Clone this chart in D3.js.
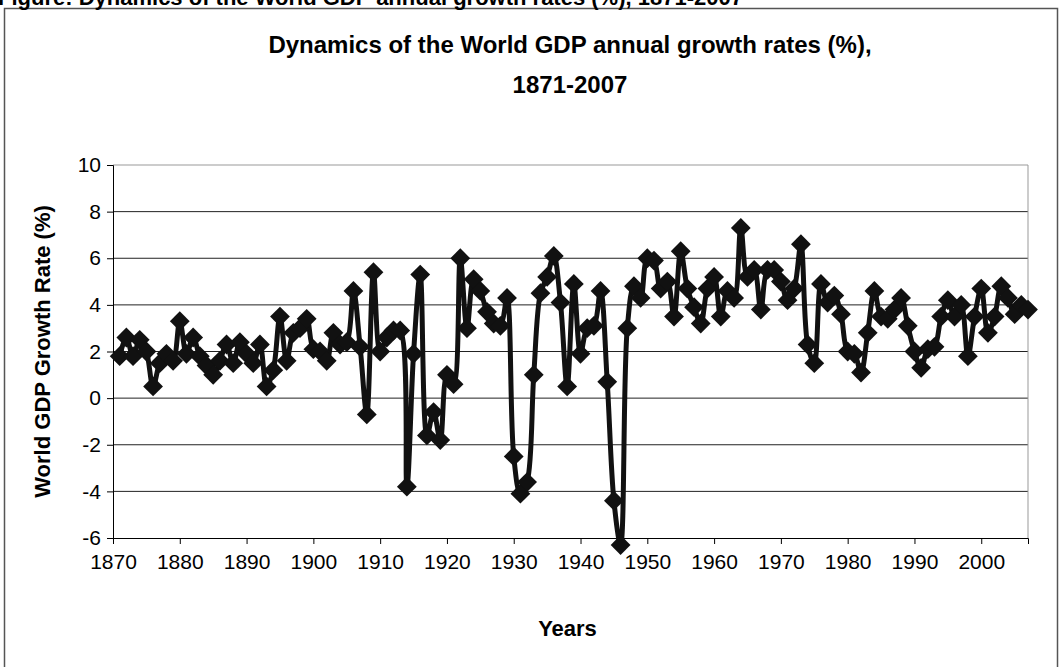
<!DOCTYPE html>
<html>
<head>
<meta charset="utf-8">
<script src="https://cdn.jsdelivr.net/npm/d3@7"></script>
<style>
body { margin: 0; background: #fff; }
text { font-family: "Liberation Sans", Arial, sans-serif; }
.tick text { font-size: 21px; fill: #000; }
</style>
</head>
<body>
<div id="chart"></div>
<script>
// years and growth rates
const years = d3.range(1871, 2008);
const growth = [
  1.8, 2.6, 1.8, 2.5, 2.0, 0.5, 1.5, 1.9, 1.6, 3.3,
  1.9, 2.6, 1.8, 1.4, 1.0, 1.6, 2.3, 1.5, 2.4, 1.9,
  1.5, 2.3, 0.5, 1.2, 3.5, 1.6, 2.8, 3.0, 3.4, 2.1,
  2.0, 1.6, 2.8, 2.3, 2.4, 4.6, 2.2, -0.7, 5.4, 2.0,
  2.6, 2.9, 2.9, -3.8, 1.9, 5.3, -1.6, -0.6, -1.8, 1.0,
  0.6, 6.0, 3.0, 5.1, 4.6, 3.7, 3.2, 3.1, 4.3, -2.5,
  -4.1, -3.6, 1.0, 4.5, 5.2, 6.1, 4.1, 0.5, 4.9, 1.9,
  3.0, 3.1, 4.6, 0.7, -4.4, -6.3, 3.0, 4.8, 4.3, 6.0,
  5.9, 4.7, 5.0, 3.5, 6.3, 4.7, 3.9, 3.2, 4.7, 5.2,
  3.5, 4.6, 4.3, 7.3, 5.2, 5.5, 3.8, 5.5, 5.5, 5.0,
  4.2, 4.7, 6.6, 2.3, 1.5, 4.9, 4.1, 4.4, 3.6, 2.0,
  1.9, 1.1, 2.8, 4.6, 3.5, 3.4, 3.8, 4.3, 3.1, 2.0,
  1.3, 2.1, 2.2, 3.5, 4.2, 3.5, 4.0, 1.8, 3.5, 4.7,
  2.8, 3.5, 4.8, 4.3, 3.6, 4.0, 3.8
];
const yTicks = [-6, -4, -2, 0, 2, 4, 6, 8, 10];
const xTicks = d3.range(1870, 2001, 10);

const data = years.map((y, i) => ({ year: y, value: growth[i] }));

const w = 1063, h = 667;
const margin = { top: 165, right: 35, bottom: 129, left: 113 };
const innerWidth = w - margin.left - margin.right;
const innerHeight = h - margin.top - margin.bottom;

const svg = d3.select("#chart").append("svg")
    .attr("width", w)
    .attr("height", h);

// outer chart frame
svg.append("rect")
    .attr("x", 4.5).attr("y", 8.5)
    .attr("width", 1053).attr("height", 680)
    .attr("fill", "none")
    .attr("stroke", "#555")
    .attr("stroke-width", 1.5);

// caption cut off at the top of the page
svg.append("text")
    .attr("x", -2).attr("y", 5)
    .style("font-size", "22px").style("font-weight", "bold")
    .text("Figure: Dynamics of the World GDP annual growth rates (%), 1871-2007");

svg.append("text")
    .attr("x", 570).attr("y", 53)
    .attr("text-anchor", "middle")
    .style("font-size", "24px").style("font-weight", "bold")
    .text("Dynamics of the World GDP annual growth rates  (%),");
svg.append("text")
    .attr("x", 570).attr("y", 93)
    .attr("text-anchor", "middle")
    .style("font-size", "24px").style("font-weight", "bold")
    .text("1871-2007");

const xScale = d3.scaleLinear().domain([1870, 2007]).range([0, innerWidth]);
const yScale = d3.scaleLinear().domain([-6, 10]).range([innerHeight, 0]);

const g = svg.append("g").attr("transform", `translate(${margin.left},${margin.top})`);

// gridlines
g.selectAll(".grid").data(yTicks.filter(d => d > -6))
    .enter().append("line")
    .attr("x1", 0).attr("x2", innerWidth)
    .attr("y1", d => yScale(d)).attr("y2", d => yScale(d))
    .attr("stroke", d => d === 10 ? "#999" : "#222")
    .attr("stroke-width", 1);

// right border of plot
g.append("line")
    .attr("x1", innerWidth).attr("x2", innerWidth)
    .attr("y1", 0).attr("y2", innerHeight)
    .attr("stroke", "#999");

const yAxis = d3.axisLeft(yScale).tickValues(yTicks).tickFormat(d => String(d)).tickSize(6).tickPadding(6);
const yAxisG = g.append("g").call(yAxis);
yAxisG.selectAll("line,path").attr("stroke", "#000");

const xAxis = d3.axisBottom(xScale).tickValues(xTicks).tickFormat(d => String(d)).tickSize(6).tickPadding(10);
const xAxisG = g.append("g").attr("transform", `translate(0,${innerHeight})`).call(xAxis);
xAxisG.selectAll("line,path").attr("stroke", "#000");

svg.append("text")
    .attr("transform", `translate(50,${margin.top + innerHeight / 2}) rotate(-90)`)
    .attr("text-anchor", "middle")
    .style("font-size", "22px").style("font-weight", "bold")
    .text("World GDP Growth Rate (%)");
svg.append("text")
    .attr("x", margin.left + innerWidth / 2 - 3).attr("y", 636)
    .attr("text-anchor", "middle")
    .style("font-size", "22px").style("font-weight", "bold")
    .text("Years");

// smoothed line
const lineGenerator = d3.line()
    .x(d => xScale(d.year))
    .y(d => yScale(d.value))
    .curve(d3.curveCatmullRom.alpha(0.5));
g.append("path")
    .attr("d", lineGenerator(data))
    .attr("fill", "none")
    .attr("stroke", "#111")
    .attr("stroke-width", 5);

// diamond markers
const diamond = d3.symbol().type(d3.symbolDiamond2).size(250);
g.selectAll(".dot").data(data)
    .enter().append("path")
    .attr("d", diamond)
    .attr("transform", d => `translate(${xScale(d.year)},${yScale(d.value)})`)
    .attr("fill", "#111");
</script>
</body>
</html>
